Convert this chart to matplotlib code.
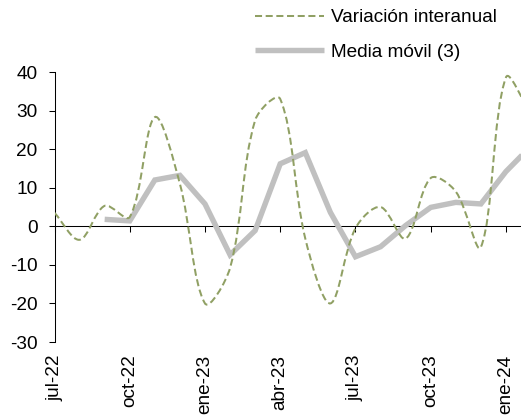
import numpy as np
import matplotlib
matplotlib.use('Agg')
import matplotlib.pyplot as plt
from matplotlib.path import Path
from matplotlib.patches import PathPatch
from matplotlib.lines import Line2D

plt.rcParams['font.family'] = ['Liberation Sans', 'DejaVu Sans']
plt.rcParams['font.size'] = 13.7
plt.rcParams['axes.unicode_minus'] = False

meses = ['jul-22', 'ago-22', 'sep-22', 'oct-22', 'nov-22', 'dic-22',
         'ene-23', 'feb-23', 'mar-23', 'abr-23', 'may-23', 'jun-23',
         'jul-23', 'ago-23', 'sep-23', 'oct-23', 'nov-23', 'dic-23',
         'ene-24', 'feb-24']
variacion = [3.5, -3.5, 5.3, 2.4, 28.3, 11.0, -20.0, -10.8, 27.5, 33.0,
             -3.2, -20.0, -0.5, 5.0, -3.2, 12.5, 9.0, -5.4, 38.6, 29.0]
media_movil = [np.nan, np.nan, 1.8, 1.4, 12.0, 13.2, 5.8, -7.4, -1.1, 16.2,
               19.1, 3.6, -7.9, -5.3, 0.2, 4.9, 6.2, 5.8, 14.2, 20.8]
etiquetas = ['jul-22', 'oct-22', 'ene-23', 'abr-23', 'jul-23', 'oct-23', 'ene-24']

verde = '#90a064'
gris = '#c0c0c0'

# --------------------------------------------------------------------------------


def linea_suave(ax, xs, ys, f=1/3):
    # Bezier segments through the points (Excel-like smoothed line)
    pts = ax.transData.transform(np.column_stack([xs, ys]))
    n = len(pts)
    c_in = [None] * n
    c_out = [None] * n
    c_out[0] = pts[0] + (pts[1] - pts[0]) / 3
    c_in[-1] = pts[-1] - (pts[-1] - pts[-2]) / 3
    for i in range(1, n - 1):
        d1 = np.linalg.norm(pts[i] - pts[i - 1])
        d2 = np.linalg.norm(pts[i + 1] - pts[i])
        t = pts[i + 1] - pts[i - 1]
        c_in[i] = pts[i] - t * f * d1 / (d1 + d2)
        c_out[i] = pts[i] + t * f * d2 / (d1 + d2)
    verts = [pts[0]]
    codes = [Path.MOVETO]
    for i in range(n - 1):
        verts += [c_out[i], c_in[i + 1], pts[i + 1]]
        codes += [Path.CURVE4] * 3
    verts = ax.transData.inverted().transform(np.array(verts))
    return Path(verts, codes)

# --------------------------------------------------------------------------------


fig = plt.figure(figsize=(5.21, 4.19), dpi=100)
ax = fig.add_axes([54.5 / 521, 1 - 342 / 419, 1 - 54.5 / 521, 270 / 419])

x = np.arange(len(meses))
ax.set_xlim(0, 18.6)
ax.set_ylim(-30, 40)

# Moving average (thick gray)
ax.plot(x, media_movil, color=gris, lw=3.9, solid_capstyle='butt',
        solid_joinstyle='miter', zorder=2)

# Year-on-year variation (smoothed dashed)
camino = linea_suave(ax, x, variacion)
ax.add_patch(PathPatch(camino, fill=False, edgecolor=verde, lw=1.45,
                       linestyle=(0, (3.5, 1.8)), zorder=3))

# Axes styling
for s in ['top', 'right', 'bottom']:
    ax.spines[s].set_visible(False)
ax.spines['left'].set_linewidth(0.75)
ax.set_yticks(range(-30, 41, 10))
ax.tick_params(axis='y', direction='out', length=4.3, width=0.75, pad=8)
ax.set_xticks(x[::3])
ax.set_xticklabels(etiquetas, rotation=90, va='top', ha='center')
ax.tick_params(axis='x', length=0, pad=9)

# Zero line with tick marks
eje0 = ax.secondary_xaxis(30 / 70)
eje0.set_xticks(x[::3])
eje0.tick_params(direction='out', length=4, width=0.75, labelbottom=False,
                 labeltop=False)
eje0.spines['bottom'].set_linewidth(0.75)

# Legend
handles = [Line2D([], [], color=verde, lw=1.45, linestyle=(0, (3.5, 1.8))),
           Line2D([], [], color=gris, lw=3.9, solid_capstyle='butt')]
fig.legend(handles, ['Variación interanual', 'Media móvil (3)'],
           loc='upper left', bbox_to_anchor=(255 / 521, 1 - 9 / 419),
           frameon=False, borderpad=0, borderaxespad=0, handlelength=3.6,
           handletextpad=0.4, labelspacing=0.92)

fig.savefig('out.png', dpi=100)
